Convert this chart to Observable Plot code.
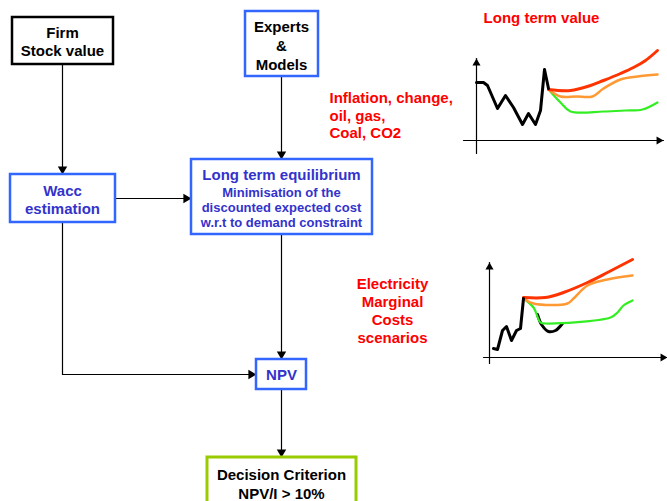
<!DOCTYPE html>
<html>
<head>
<meta charset="utf-8">
<script src="https://cdn.jsdelivr.net/npm/d3@7"></script>
<script src="https://cdn.jsdelivr.net/npm/@observablehq/plot@0.6"></script>
<style>
  html, body { margin: 0; padding: 0; background: white; overflow: hidden; }
</style>
</head>
<body>
<div id="chart"></div>
<script>
// ---------- DATA (figure units) ----------
const boxIds    = ["firm", "experts", "wacc", "lte", "npv", "decision"];
const boxLabels = [
  "Firm\nStock value",
  "Experts\n&\nModels",
  "Wacc\nestimation",
  "Long term equilibrium",
  "NPV",
  "Decision Criterion\nNPV/I > 10%"
];
const lteSubLabel = "Minimisation of the\ndiscounted expected cost\nw.r.t to demand constraint";
const noteLabels = [
  "Long term value",
  "Inflation, change,\noil, gas,\nCoal, CO2",
  "Electricity\nMarginal\nCosts\nscenarios"
];

// Upper chart (long term value): history + three scenarios
const hist1 = [[476,82],[483,82],[487,85],[497,108],[505,95],[513,107],[522,124],[528,113],[535,124],[540,110],[544,69],[548,88]];
const high1 = [[548,89],[570,90],[590,85],[603,80],[620,73],[633,67],[645,60],[657,50]];
const mid1  = [[548,89],[560,96],[576,96],[592,96],[603,88],[620,79],[637,76],[657,74]];
const low1  = [[548,89],[560,102],[570,111],[603,111],[625,110],[642,109],[657,102]];

// Lower chart (electricity marginal costs scenarios)
const hist2  = [[493,348],[497,349],[502,330],[506,326],[511,340],[516,330],[520,328],[523,298]];
const hist2b = [[537,314],[541,324],[548,331],[555,330],[562,323]];
const high2  = [[523,297],[545,297],[563,292],[587,282],[607,272],[632,259]];
const mid2   = [[523,298],[533,303],[567,303],[573,298],[587,285],[607,279],[632,275]];
const low2   = [[523,298],[533,307],[540,322],[545,323],[610,317],[617,312],[623,305],[632,300]];

// ---------- LAYOUT ----------
const layout = {
  firm:     {x1: 12,  x2: 113, y1: 17,  y2: 64,  stroke: "#000000", color: "#000000", lh: 1.2,  sw: 2.5},
  experts:  {x1: 245, x2: 318, y1: 11,  y2: 76,  stroke: "#3366ff", color: "#000000", lh: 1.27, sw: 2.5},
  wacc:     {x1: 10,  x2: 115, y1: 174, y2: 222, stroke: "#3366ff", color: "#3333cc", lh: 1.2,  sw: 2.5},
  lte:      {x1: 191, x2: 372, y1: 159, y2: 234, stroke: "#3366ff", color: "#3333cc", lh: 1.2,  sw: 2.5},
  npv:      {x1: 256, x2: 306, y1: 359, y2: 389, stroke: "#3366ff", color: "#3333cc", lh: 1.2,  sw: 2.5},
  decision: {x1: 207, x2: 356, y1: 457, y2: 520, stroke: "#99cc00", color: "#000000", lh: 1.27, sw: 3}
};
const boxes = boxIds.map((id, i) => ({id, label: boxLabels[i], ...layout[id]}));
const labelPos = {
  firm: [62, 41], experts: [281, 44], wacc: [62, 199], lte: [281, 174], npv: [281, 374], decision: [281, 482.5]
};
const boxTexts = boxes.map(b => ({label: b.label, x: labelPos[b.id][0], y: labelPos[b.id][1], color: b.color, lh: b.lh}));

const connectors = [
  {id: "c1", pts: [[62,64],[62,174]]},
  {id: "c2", pts: [[115,198],[191,198]]},
  {id: "c3", pts: [[281,76],[281,159]]},
  {id: "c4", pts: [[281,234],[281,359]]},
  {id: "c5", pts: [[62,222],[62,374],[256,374]]},
  {id: "c6", pts: [[281,389],[281,457]]}
];
const axesLines = [
  {id: "a1y", pts: [[476,153],[476,58]]},
  {id: "a1x", pts: [[463,140],[663,140]]},
  {id: "a2y", pts: [[489,363],[489,262]]},
  {id: "a2x", pts: [[483,357],[667,357]]}
];

function flatten(list) {
  return list.flatMap(c => c.pts.map(([x, y]) => ({id: c.id, x, y})));
}
function heads(list, tipOffset) {
  return list.map(c => {
    const [a, b] = c.pts.slice(-2);
    const dx = b[0] - a[0], dy = b[1] - a[1];
    const len = Math.hypot(dx, dy);
    return {
      x: b[0] - dx / len * tipOffset,
      y: b[1] - dy / len * tipOffset,
      angle: Math.atan2(dx, -dy) * 180 / Math.PI
    };
  });
}
const toPts = arr => arr.map(([x, y]) => ({x, y}));

const font = "'Liberation Sans', Arial, Helvetica, sans-serif";

const chart = Plot.plot({
  width: 667,
  height: 501,
  margin: 0,
  x: {domain: [0, 667], axis: null},
  y: {domain: [0, 501], reverse: true, axis: null},
  style: {fontFamily: font, background: "white", overflow: "hidden"},
  marks: [
    // connectors
    Plot.line(flatten(connectors), {x: "x", y: "y", z: "id", stroke: "#000", strokeWidth: 1.2}),
    Plot.dot(heads(connectors, 5.4), {x: "x", y: "y", rotate: "angle", symbol: "triangle", r: 3.5, fill: "#000", stroke: "none"}),
    // boxes
    Plot.rect(boxes, {x1: "x1", x2: "x2", y1: "y1", y2: "y2", fill: "white", stroke: "stroke", strokeWidth: "sw", clip: true}),
    ...boxTexts.map(t => Plot.text([t], {x: "x", y: "y", text: "label", fill: t.color, fontSize: 15, fontWeight: "bold", lineHeight: t.lh})),
    Plot.text([lteSubLabel], {x: 281, y: 207, text: d => d, fill: "#3333cc", fontSize: 13, fontWeight: "bold", lineHeight: 1.15}),
    // red notes
    Plot.text([noteLabels[0]], {x: 541, y: 18, text: d => d, fill: "#ff0000", fontSize: 15, fontWeight: "bold"}),
    Plot.text([noteLabels[1]], {x: 329, y: 114.5, text: d => d, fill: "#ff0000", fontSize: 15, fontWeight: "bold", textAnchor: "start", lineHeight: 1.17}),
    Plot.text([noteLabels[2]], {x: 392, y: 310, text: d => d, fill: "#ff0000", fontSize: 15, fontWeight: "bold", lineHeight: 1.2}),
    // mini chart axes
    Plot.line(flatten(axesLines), {x: "x", y: "y", z: "id", stroke: "#000", strokeWidth: 1.2}),
    Plot.dot(heads(axesLines, 4.6), {x: "x", y: "y", rotate: "angle", symbol: "triangle", r: 3, fill: "#000", stroke: "none"}),
    // upper chart series
    Plot.line(toPts(low1),  {x: "x", y: "y", stroke: "#33ee22", strokeWidth: 2.2, curve: "catmull-rom"}),
    Plot.line(toPts(mid1),  {x: "x", y: "y", stroke: "#ff9933", strokeWidth: 2.5, curve: "catmull-rom"}),
    Plot.line(toPts(high1), {x: "x", y: "y", stroke: "#ff3300", strokeWidth: 3, curve: "catmull-rom"}),
    Plot.line(toPts(hist1), {x: "x", y: "y", stroke: "#000", strokeWidth: 3, strokeLinejoin: "round"}),
    // lower chart series
    Plot.line(toPts(hist2b), {x: "x", y: "y", stroke: "#000", strokeWidth: 3, curve: "catmull-rom"}),
    Plot.line(toPts(low2),  {x: "x", y: "y", stroke: "#33ee22", strokeWidth: 2.2, curve: "catmull-rom"}),
    Plot.line(toPts(mid2),  {x: "x", y: "y", stroke: "#ff9933", strokeWidth: 2.5, curve: "catmull-rom"}),
    Plot.line(toPts(high2), {x: "x", y: "y", stroke: "#ff3300", strokeWidth: 3, curve: "catmull-rom"}),
    Plot.line(toPts(hist2), {x: "x", y: "y", stroke: "#000", strokeWidth: 3, strokeLinejoin: "round"})
  ]
});
document.getElementById("chart").appendChild(chart);
</script>
</body>
</html>
